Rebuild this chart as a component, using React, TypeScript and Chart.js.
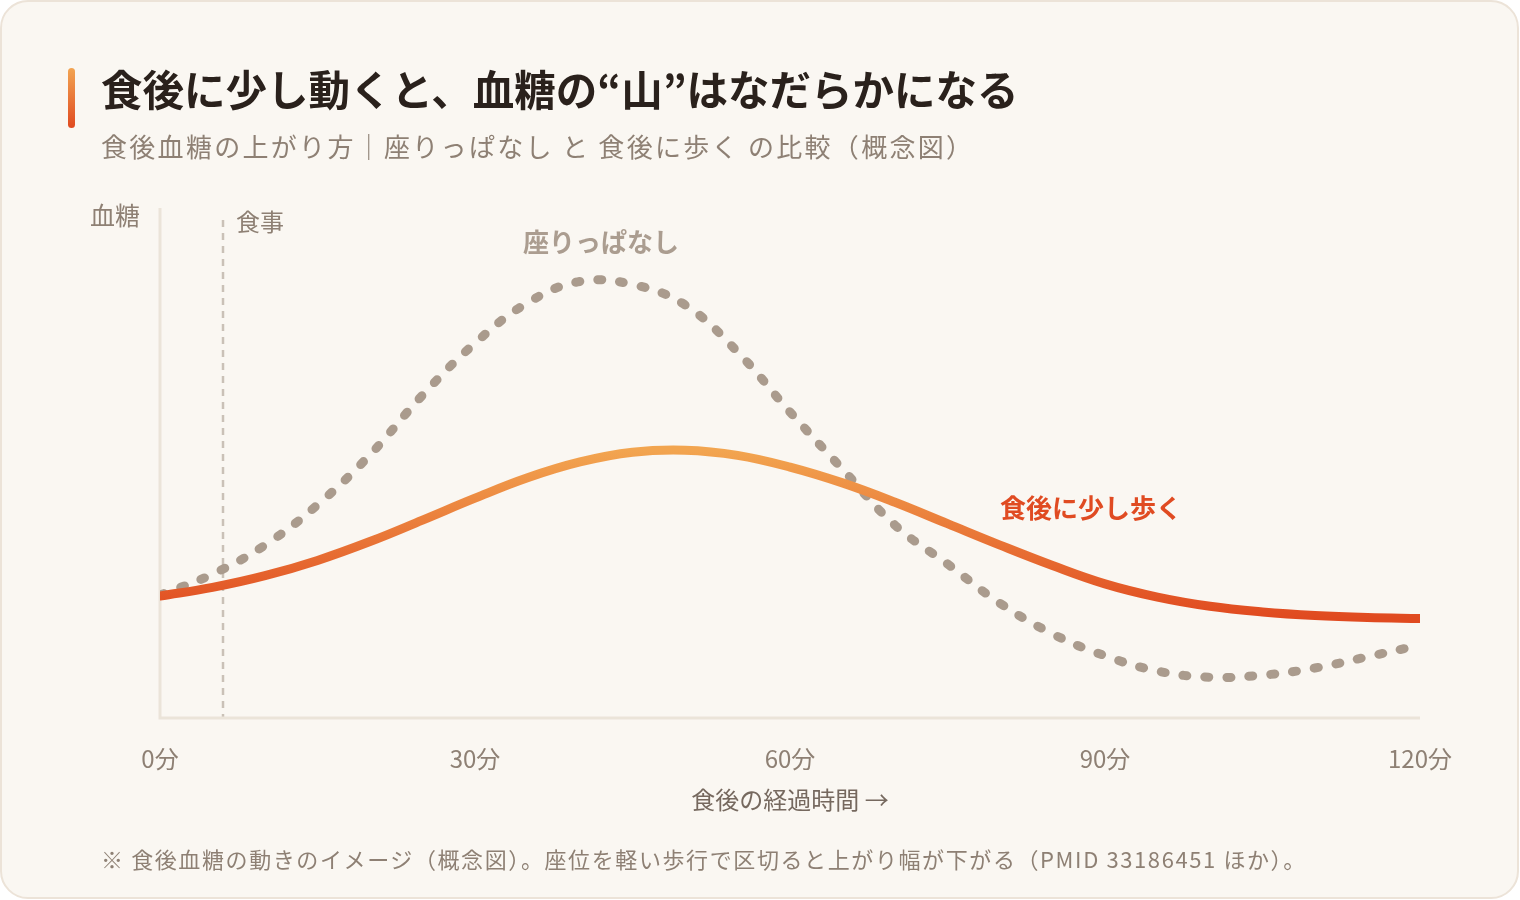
import React, { useEffect, useRef } from "react";
import { Chart, registerables } from "chart.js";

Chart.register(...registerables);

// ---- data (concept chart, arbitrary blood-sugar units) ----
const minutes = [0, 5, 10, 15, 20, 25, 30, 35, 40, 45, 50, 55, 60, 65, 70, 75, 80, 85, 90, 95, 100, 105, 110, 115, 120];
const sitting = [24.1, 28.2, 33.9, 41.8, 51.6, 63.3, 73.5, 81.4, 85.6, 85.0, 81.0, 71.8, 60.0, 48.8, 37.8, 30.2, 22.5, 16.5, 12.2, 9.2, 8.0, 8.4, 9.8, 12.0, 14.3];
const walking = [23.9, 25.6, 27.9, 30.9, 34.6, 38.8, 43.1, 47.1, 50.2, 52.1, 52.5, 51.5, 49.2, 46.1, 42.3, 38.1, 33.9, 29.9, 26.3, 23.7, 21.9, 20.8, 20.1, 19.7, 19.5];
const xTicks = [0, 30, 60, 90, 120];
const tickSuffix = "分";
const mealMinute = 6;
const sittingLabel = "座りっぱなし";
const walkingLabel = "食後に少し歩く";
const sittingLabelPos = [42, 93.3];
const walkingLabelPos = [80, 41.2];

const FONT = '"Noto Sans CJK JP", "Noto Sans", sans-serif';
const MUTED = "#8e8074";
const AXIS = "#ebe4d9";

const decorPlugin = {
  id: "decor",
  beforeDatasetsDraw(chart: any) {
    const { ctx, chartArea, scales } = chart;
    const x = scales.x;
    ctx.save();
    // meal dashed line
    const mx = x.getPixelForValue(mealMinute);
    ctx.strokeStyle = "#cac1b7";
    ctx.lineWidth = 2.5;
    ctx.setLineDash([7, 6]);
    ctx.beginPath();
    ctx.moveTo(mx, chartArea.top + 12);
    ctx.lineTo(mx, chartArea.bottom);
    ctx.stroke();
    ctx.setLineDash([]);
    // axes
    ctx.strokeStyle = AXIS;
    ctx.lineWidth = 3;
    ctx.beginPath();
    ctx.moveTo(chartArea.left, chartArea.top);
    ctx.lineTo(chartArea.left, chartArea.bottom);
    ctx.lineTo(chartArea.right, chartArea.bottom);
    ctx.stroke();
    // axis texts
    ctx.font = `400 25px ${FONT}`;
    ctx.fillStyle = MUTED;
    ctx.textBaseline = "middle";
    ctx.textAlign = "right";
    ctx.fillText("血糖", chartArea.left - 20, chartArea.top + 7);
    ctx.textAlign = "left";
    ctx.font = `400 24px ${FONT}`;
    ctx.fillText("食事", mx + 13, chartArea.top + 14);
    ctx.restore();
  },
  afterDatasetsDraw(chart: any) {
    const { ctx, scales } = chart;
    const { x, y } = scales;
    ctx.save();
    ctx.textBaseline = "middle";
    ctx.font = `700 26px ${FONT}`;
    ctx.fillStyle = "#ab9d90";
    ctx.textAlign = "center";
    ctx.fillText(sittingLabel, x.getPixelForValue(sittingLabelPos[0]), y.getPixelForValue(sittingLabelPos[1]));
    ctx.fillStyle = "#e04b22";
    ctx.textAlign = "left";
    ctx.fillText(walkingLabel, x.getPixelForValue(walkingLabelPos[0]), y.getPixelForValue(walkingLabelPos[1]));
    ctx.restore();
  },
};

function ChartCanvas() {
  const ref = useRef<HTMLCanvasElement | null>(null);
  useEffect(() => {
    if (!ref.current) return;
    const chart = new Chart(ref.current, {
      type: "line",
      data: {
        datasets: [
          {
            label: walkingLabel,
            data: minutes.map((m, i) => ({ x: m, y: walking[i] })),
            order: 0,
            borderWidth: 9,
            borderCapStyle: "round",
            borderJoinStyle: "round",
            pointRadius: 0,
            tension: 0.4,
            borderColor: (c: any) => {
              const ch = c.chart;
              const { ctx, chartArea, scales } = ch;
              if (!chartArea) return "#e85a2a";
              const g = ctx.createLinearGradient(0, scales.y.getPixelForValue(52.5), 0, scales.y.getPixelForValue(19.6));
              g.addColorStop(0, "#f2a550");
              g.addColorStop(1, "#e04a20");
              return g;
            },
          },
          {
            label: sittingLabel,
            data: minutes.map((m, i) => ({ x: m, y: sitting[i] })),
            order: 1,
            borderWidth: 9,
            borderColor: "#aa9b8d",
            borderCapStyle: "round",
            borderDash: [4, 18],
            pointRadius: 0,
            tension: 0.4,
          },
        ],
      },
      options: {
        responsive: false,
        animation: false,
        layout: { padding: { left: 160, right: 100, top: 208, bottom: 0 } },
        plugins: { legend: { display: false }, tooltip: { enabled: false } },
        scales: {
          x: {
            type: "linear",
            min: 0,
            max: 120,
            afterFit: (s: any) => {
              s.height = 182;
            },
            afterBuildTicks: (s: any) => {
              s.ticks = xTicks.map((v) => ({ value: v }));
            },
            grid: { display: false, drawTicks: false },
            border: { display: false },
            ticks: {
              padding: 26,
              font: { family: FONT, size: 24 },
              color: MUTED,
              callback: (v: any) => `${v}${tickSuffix}`,
              maxRotation: 0,
            },
            title: {
              display: true,
              text: "食後の経過時間 →",
              font: { family: FONT, size: 24 },
              color: "#76695f",
              padding: { top: 0, bottom: 86 },
            },
          },
          y: { display: false, min: 0, max: 100 },
        },
      },
      plugins: [decorPlugin],
    } as any);
    return () => chart.destroy();
  }, []);
  return <canvas ref={ref} width={1520} height={900} style={{ position: "absolute", left: 0, top: 0, width: 1520, height: 900 }} />;
}

export default function App() {
  useEffect(() => {
    document.body.style.margin = "0";
  }, []);
  return (
    <div style={{ position: "fixed", left: 0, top: 0, width: 1520, height: 900, background: "#ffffff", fontFamily: FONT }}>
      <div
        style={{
          position: "absolute",
          left: 0,
          top: 0,
          width: 1519,
          height: 899,
          boxSizing: "border-box",
          border: "2px solid #ece3d8",
          borderRadius: 28,
          background: "#faf7f2",
        }}
      />
      <ChartCanvas />
      <div
        style={{
          position: "absolute",
          left: 68,
          top: 68,
          width: 7,
          height: 60,
          borderRadius: 4,
          background: "linear-gradient(#f2a452, #e04a20)",
        }}
      />
      <div style={{ position: "absolute", left: 101, top: 67, fontSize: 41.5, lineHeight: "42px", fontWeight: 700, color: "#2a211c", whiteSpace: "nowrap" }}>
        食後に少し動くと、血糖の“山”はなだらかになる
      </div>
      <div style={{ position: "absolute", left: 101, top: 133, fontSize: 26, lineHeight: "26px", letterSpacing: 2.3, fontWeight: 400, color: MUTED, whiteSpace: "nowrap" }}>
        食後血糖の上がり方｜座りっぱなし と 食後に歩く の比較（概念図）
      </div>
      <div style={{ position: "absolute", left: 101, top: 847, fontSize: 22, lineHeight: "22px", letterSpacing: 1.6, color: MUTED, whiteSpace: "nowrap" }}>
        ※ 食後血糖の動きのイメージ（概念図）。座位を軽い歩行で区切ると上がり幅が下がる（PMID 33186451 ほか）。
      </div>
    </div>
  );
}
